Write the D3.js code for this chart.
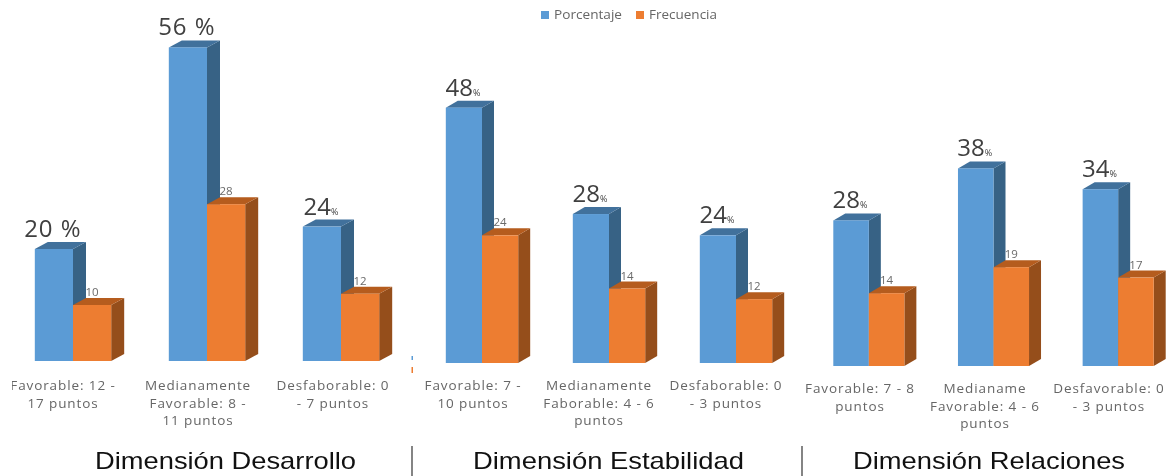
<!DOCTYPE html>
<html>
<head>
<meta charset="utf-8">
<script src="https://cdn.jsdelivr.net/npm/d3@7"></script>
<style>
html,body{margin:0;padding:0;background:#fff;}
svg{display:block;filter:blur(0.5px);}
</style>
</head>
<body>
<div id="chart"></div>
<script>
// Data
const seriesNames = ["Porcentaje", "Frecuencia"];
const dimensions = ["Dimensión Desarrollo", "Dimensión Estabilidad", "Dimensión Relaciones"];
const categoriesDesarrollo = [["Favorable: 12 -","17 puntos"],["Medianamente","Favorable: 8 -","11 puntos"],["Desfaborable: 0","- 7 puntos"]];
const categoriesEstabilidad = [["Favorable: 7 -","10 puntos"],["Medianamente","Faborable: 4 - 6","puntos"],["Desfaborable: 0","- 3 puntos"]];
const categoriesRelaciones = [["Favorable: 7 - 8","puntos"],["Medianame","Favorable: 4 - 6","puntos"],["Desfavorable: 0","- 3 puntos"]];
const porcentajeDesarrollo = [20, 56, 24];
const porcentajeEstabilidad = [48, 28, 24];
const porcentajeRelaciones = [28, 38, 34];
const frecuenciaDesarrollo = [10, 28, 12];
const frecuenciaEstabilidad = [24, 14, 12];
const frecuenciaRelaciones = [14, 19, 17];
const percentTextDesarrollo = ["20 %", "56 %", "24%"];
const percentTextEstabilidad = ["48%", "28%", "24%"];
const percentTextRelaciones = ["28%", "38%", "34%"];

// Layout
const W = 1175, H = 476;
const layout = [
  {x0: 6, x1: 408, base: 361, k: 5.6, depthX: 13, depthY: 7, labelCx: [63, 198, 333], labelY: 386, titleCx: 225.5, titleW: 261},
  {x0: 418.5, x1: 799.5, base: 363, k: 5.32, depthX: 12, depthY: 7, labelCx: [473, 599, 726], labelY: 386, titleCx: 608.5, titleW: 271},
  {x0: 806.5, x1: 1180.5, base: 366, k: 5.2, depthX: 12, depthY: 7, labelCx: [860, 985, 1109], labelY: 389, titleCx: 989, titleW: 272}
];
const panels = [
  {cats: categoriesDesarrollo, pct: porcentajeDesarrollo, frq: frecuenciaDesarrollo, txt: percentTextDesarrollo},
  {cats: categoriesEstabilidad, pct: porcentajeEstabilidad, frq: frecuenciaEstabilidad, txt: percentTextEstabilidad},
  {cats: categoriesRelaciones, pct: porcentajeRelaciones, frq: frecuenciaRelaciones, txt: percentTextRelaciones}
];
const colors = {
  Porcentaje: {front: "#5B9BD5", top: "#41719C", side: "#376285"},
  Frecuencia: {front: "#ED7D31", top: "#B55C1E", side: "#954E1B"}
};
const labelFont = "'Open Sans','Noto Sans',sans-serif";

const svg = d3.select("#chart").append("svg").attr("width", W).attr("height", H);
svg.append("defs").append("clipPath").attr("id", "leftClip")
  .append("rect").attr("x", 12).attr("y", 0).attr("width", W).attr("height", H);

const poly = d3.line();

panels.forEach((p, pi) => {
  const L = layout[pi];
  const g = svg.append("g");
  const x = d3.scaleBand().domain(d3.range(3)).range([L.x0, L.x1]).paddingInner(0.43).paddingOuter(0.215);
  const xs = d3.scaleBand().domain(seriesNames).range([0, x.bandwidth()]);
  const y = d3.scaleLinear().domain([0, 60]).range([L.base, L.base - 60 * L.k]);

  d3.range(3).forEach(i => {
    seriesNames.forEach(s => {
      const v = s === "Porcentaje" ? p.pct[i] : p.frq[i];
      const c = colors[s];
      const l = x(i) + xs(s), r = l + xs.bandwidth(), t = y(v), b = y(0);
      const dx = L.depthX, dy = L.depthY;
      g.append("path").attr("fill", c.side)
        .attr("d", poly([[r, t], [r + dx, t - dy], [r + dx, b - dy], [r, b]]) + "Z");
      g.append("path").attr("fill", c.top)
        .attr("d", poly([[l, t], [l + dx, t - dy], [r + dx, t - dy], [r, t]]) + "Z");
      g.append("rect").attr("x", l).attr("y", t).attr("width", r - l).attr("height", b - t).attr("fill", c.front);
    });
  });

  // value labels
  d3.range(3).forEach(i => {
    const txt = p.txt[i];
    const cx = x(i) + xs("Porcentaje") + xs.bandwidth() / 2 - 1;
    const t = g.append("text").attr("x", cx).attr("y", y(p.pct[i]) - 12)
      .attr("text-anchor", "middle").attr("fill", "#404040")
      .attr("font-family", labelFont).attr("font-size", 24);
    if (txt.includes(" ")) {
      t.attr("letter-spacing", 1).text(txt);
    } else {
      t.append("tspan").text(txt.replace("%", ""));
      t.append("tspan").attr("font-size", 9).text("%");
    }
    g.append("text").attr("x", x(i) + xs("Frecuencia") + xs.bandwidth() / 2)
      .attr("y", y(p.frq[i]) - 9).attr("text-anchor", "middle")
      .attr("fill", "#6a6a6a").attr("font-family", labelFont).attr("font-size", 11.5)
      .text(p.frq[i]);
  });

  // category labels
  const lg = g.append("g").attr("clip-path", pi === 0 ? "url(#leftClip)" : null);
  p.cats.forEach((lines, i) => {
    lines.forEach((ln, j) => {
      lg.append("text").attr("x", L.labelCx[i]).attr("y", L.labelY + 4 + j * 17.7)
        .attr("text-anchor", "middle").attr("fill", "#666")
        .attr("font-family", labelFont).attr("font-size", 13.5).attr("letter-spacing", 0.9)
        .text(ln);
    });
  });

  // dimension title
  svg.append("text").attr("x", L.titleCx).attr("y", 469).attr("text-anchor", "middle")
    .attr("fill", "#111").attr("font-family", "'Liberation Sans',Arial,sans-serif").attr("font-size", 24)
    .attr("textLength", L.titleW).attr("lengthAdjust", "spacingAndGlyphs").text(dimensions[pi]);
});

// separators
[412, 802].forEach(px => {
  svg.append("line").attr("x1", px).attr("x2", px).attr("y1", 446).attr("y2", 476)
    .attr("stroke", "#333").attr("stroke-width", 1.2);
});

// clipped legend remnant
svg.append("rect").attr("x", 411.5).attr("y", 356).attr("width", 1.5).attr("height", 4).attr("fill", colors.Porcentaje.front);
svg.append("rect").attr("x", 411.5).attr("y", 367).attr("width", 1.5).attr("height", 6).attr("fill", colors.Frecuencia.front);

// legend
const legendX = d3.scaleOrdinal().domain(seriesNames).range([541, 636]);
seriesNames.forEach(s => {
  svg.append("rect").attr("x", legendX(s)).attr("y", 11).attr("width", 8).attr("height", 8).attr("fill", colors[s].front);
  svg.append("text").attr("x", legendX(s) + 13).attr("y", 19).attr("fill", "#666")
    .attr("font-family", labelFont).attr("font-size", 12.5)
    .attr("textLength", 68).attr("lengthAdjust", "spacingAndGlyphs").text(s);
});
</script>
</body>
</html>
